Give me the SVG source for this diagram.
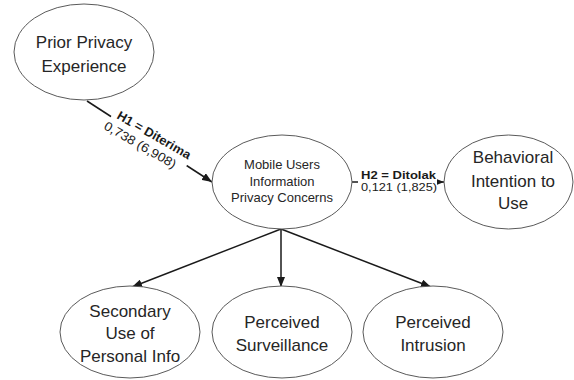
<svg xmlns="http://www.w3.org/2000/svg" width="574" height="380" viewBox="0 0 574 380">
  <defs>
    <marker id="arrow" markerUnits="userSpaceOnUse" markerWidth="10" markerHeight="8" refX="10" refY="4" orient="auto">
      <path d="M0,0 L10,4 L0,8 Z" fill="#1a1a1a"/>
    </marker>
    <style>
      .node ellipse { fill: #ffffff; stroke: #5a5a5a; stroke-width: 1; }
      .big { font-family: "Liberation Sans", Arial, sans-serif; font-size: 17px; fill: #262626; text-anchor: middle; }
      .small { font-family: "Liberation Sans", Arial, sans-serif; font-size: 13px; fill: #262626; text-anchor: middle; }
      .edge { stroke: #1a1a1a; stroke-width: 1.5; fill: none; marker-end: url(#arrow); }
      .lbl { font-family: "Liberation Sans", Arial, sans-serif; font-size: 12.5px; fill: #1a1a1a; }
      .lbl-s { font-size: 11px; }
      .lbl-b { font-weight: bold; }
      .mask { fill: #ffffff; }
    </style>
  </defs>
  <rect width="574" height="380" fill="#ffffff"/>

  <!-- connectors -->
  <g id="connectors">
    <line class="edge" x1="87" y1="101" x2="212" y2="182"/>
    <line class="edge" x1="352" y1="182" x2="444" y2="182"/>
    <line class="edge" x1="281" y1="229" x2="132" y2="287"/>
    <line class="edge" x1="281" y1="229" x2="281" y2="287"/>
    <line class="edge" x1="281" y1="229" x2="431" y2="287"/>

    <!-- path coefficient labels -->
    <g transform="translate(116,118) rotate(30)">
      <rect class="mask" x="-5" y="-11" width="90" height="31"/>
      <text class="lbl lbl-b" x="0" y="0" textLength="83" lengthAdjust="spacingAndGlyphs">H1 = Diterima</text>
      <text class="lbl" x="-6" y="15.5" textLength="81" lengthAdjust="spacingAndGlyphs">0,738 (6,908)</text>
    </g>
    <g>
      <rect class="mask" x="358" y="167" width="79" height="26"/>
      <text class="lbl lbl-s lbl-b" x="361" y="178.5" textLength="75" lengthAdjust="spacingAndGlyphs">H2 = Ditolak</text>
      <text class="lbl lbl-s" x="361" y="191" textLength="76" lengthAdjust="spacingAndGlyphs">0,121 (1,825)</text>
    </g>
  </g>

  <g id="prior-privacy-experience" class="node">
    <ellipse cx="84" cy="52" rx="70" ry="48"/>
    <text class="big" x="84" y="48">Prior Privacy</text>
    <text class="big" x="84" y="72">Experience</text>
  </g>

  <g id="mobile-users-privacy-concerns" class="node">
    <ellipse cx="282" cy="182" rx="70" ry="47"/>
    <text class="small" x="282" y="169">Mobile Users</text>
    <text class="small" x="282" y="186">Information</text>
    <text class="small" x="282" y="202">Privacy Concerns</text>
  </g>

  <g id="behavioral-intention" class="node">
    <ellipse cx="508.5" cy="182" rx="64.5" ry="47"/>
    <text class="big" x="513" y="163">Behavioral</text>
    <text class="big" x="513" y="187">Intention to</text>
    <text class="big" x="513" y="209">Use</text>
  </g>

  <g id="secondary-use" class="node">
    <ellipse cx="130" cy="332" rx="70" ry="46"/>
    <text class="big" x="130" y="317">Secondary</text>
    <text class="big" x="130" y="339">Use of</text>
    <text class="big" x="130" y="362">Personal Info</text>
  </g>

  <g id="perceived-surveillance" class="node">
    <ellipse cx="282" cy="332" rx="70" ry="46"/>
    <text class="big" x="282" y="328">Perceived</text>
    <text class="big" x="282" y="351">Surveillance</text>
  </g>

  <g id="perceived-intrusion" class="node">
    <ellipse cx="433" cy="332" rx="70" ry="46"/>
    <text class="big" x="433" y="328">Perceived</text>
    <text class="big" x="433" y="351">Intrusion</text>
  </g>
</svg>
